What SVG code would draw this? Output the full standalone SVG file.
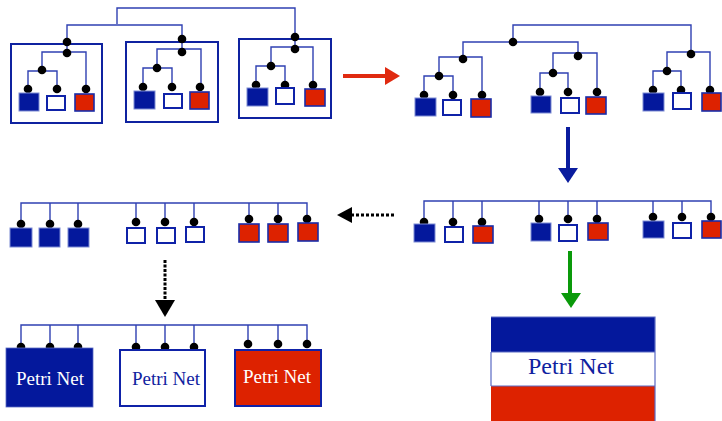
<svg xmlns="http://www.w3.org/2000/svg" width="722" height="421" viewBox="0 0 722 421">
<style>
.ln{fill:none;stroke:#2f40b2;stroke-width:1.4}
.dot{fill:#000}
.frame{fill:none;stroke:#0f22a0;stroke-width:2}
.bs{fill:#04189c;stroke:#7d8bd4;stroke-width:1}
.ws{fill:#fff;stroke:#0f22a8;stroke-width:2}
.rs{fill:#dd2200;stroke:#1a2ca8;stroke-width:1.6}
.pn{font-family:"Liberation Serif","Times New Roman",serif;text-anchor:middle}
</style>
<rect width="722" height="421" fill="#fff"/>
<g id="connectors">
  <!-- top-left tree -->
  <path class="ln" d="M117,24 V8 H295 V49"/>
  <path class="ln" d="M67,53 V25 H182 V52"/>
  <path class="ln" d="M42,70 V52 H86 V89"/>
  <path class="ln" d="M28,89 V71 H57 V89"/>
  <path class="ln" d="M157,68 V49 H201 V87"/>
  <path class="ln" d="M143,87 V68 H172 V87"/>
  <path class="ln" d="M271,66 V47 H313 V85"/>
  <path class="ln" d="M256,85 V66 H285 V85"/>
  <!-- top-right tree -->
  <path class="ln" d="M513,42 V25 H691 V54"/>
  <path class="ln" d="M463,59 V42 H578 V56"/>
  <path class="ln" d="M439,76 V57 H482 V95"/>
  <path class="ln" d="M424,95 V76 H453 V95"/>
  <path class="ln" d="M553,73 V53 H597 V92"/>
  <path class="ln" d="M540,92 V73 H568 V92"/>
  <path class="ln" d="M667,71 V52 H710 V90"/>
  <path class="ln" d="M653,90 V71 H681 V90"/>
  <!-- middle-right flat -->
  <path class="ln" d="M424,222 V201 H711 V217 M453,201 V222 M482,201 V222 M539,201 V219 M568,201 V219 M597,201 V219 M653,201 V217 M682,201 V217"/>
  <!-- middle-left flat -->
  <path class="ln" d="M21,224 V203 H307 V219 M50,203 V224 M78,203 V224 M136,203 V222 M165,203 V222 M194,203 V222 M249,203 V219 M278,203 V219"/>
  <!-- bottom-left flat -->
  <path class="ln" d="M21,347 V325 H307 V344 M50,325 V347 M78,325 V347 M136,325 V347 M165,325 V347 M194,325 V347 M248,325 V344 M278,325 V344"/>
  <!-- arrows -->
  <rect x="343" y="74" width="43" height="4" fill="#e02a10"/>
  <polygon points="385,67 400,76 385,85" fill="#e02a10"/>
  <rect x="566" y="127" width="4" height="42" fill="#0a1c9e"/>
  <polygon points="558,168 578,168 568,183" fill="#0a1c9e"/>
  <line x1="394" y1="215" x2="351" y2="215" stroke="#000" stroke-width="3" stroke-dasharray="3 2"/>
  <polygon points="352,207 352,223 337,215" fill="#000"/>
  <line x1="165" y1="260" x2="165" y2="301" stroke="#000" stroke-width="3" stroke-dasharray="3 1.5"/>
  <polygon points="155,300 175,300 165,317" fill="#000"/>
  <rect x="568" y="251" width="4" height="43" fill="#0a9a0a"/>
  <polygon points="561,293 581,293 571,308" fill="#0a9a0a"/>
</g>
<g id="tree-left-1">
  <rect class="frame" x="11" y="44" width="91" height="79"/>
  <circle class="dot" cx="67" cy="42" r="4.3"/>
  <circle class="dot" cx="67" cy="53" r="4.3"/>
  <circle class="dot" cx="42" cy="70" r="4.3"/>
  <circle class="dot" cx="28" cy="89" r="4.3"/>
  <circle class="dot" cx="57" cy="89" r="4.3"/>
  <circle class="dot" cx="86" cy="89" r="4.3"/>
  <rect class="bs" x="19" y="93" width="20" height="18"/>
  <rect class="ws" x="47" y="96" width="18" height="14"/>
  <rect class="rs" x="75" y="94" width="19" height="17"/>
</g>
<g id="tree-left-2">
  <rect class="frame" x="126" y="42" width="92" height="80"/>
  <circle class="dot" cx="182" cy="39" r="4.3"/>
  <circle class="dot" cx="182" cy="52" r="4.3"/>
  <circle class="dot" cx="157" cy="68" r="4.3"/>
  <circle class="dot" cx="143" cy="87" r="4.3"/>
  <circle class="dot" cx="172" cy="87" r="4.3"/>
  <circle class="dot" cx="200" cy="87" r="4.3"/>
  <rect class="bs" x="134" y="91" width="21" height="18"/>
  <rect class="ws" x="164" y="94" width="18" height="14"/>
  <rect class="rs" x="190" y="92" width="19" height="17"/>
</g>
<g id="tree-left-3">
  <rect class="frame" x="239" y="39" width="92" height="79"/>
  <circle class="dot" cx="295" cy="37" r="4.3"/>
  <circle class="dot" cx="295" cy="49" r="4.3"/>
  <circle class="dot" cx="271" cy="66" r="4.3"/>
  <circle class="dot" cx="256" cy="85" r="4.3"/>
  <circle class="dot" cx="285" cy="85" r="4.3"/>
  <circle class="dot" cx="313" cy="85" r="4.3"/>
  <rect class="bs" x="247" y="88" width="21" height="18"/>
  <rect class="ws" x="276" y="88" width="18" height="16"/>
  <rect class="rs" x="305" y="89" width="20" height="17"/>
</g>
<g id="tree-right">
  <circle class="dot" cx="513" cy="42" r="4.3"/>
  <circle class="dot" cx="463" cy="59" r="4.3"/>
  <circle class="dot" cx="578" cy="56" r="4.3"/>
  <circle class="dot" cx="691" cy="54" r="4.3"/>
  <circle class="dot" cx="439" cy="76" r="4.3"/>
  <circle class="dot" cx="424" cy="95" r="4.3"/>
  <circle class="dot" cx="453" cy="95" r="4.3"/>
  <circle class="dot" cx="482" cy="95" r="4.3"/>
  <rect class="bs" x="415" y="98" width="21" height="18"/>
  <rect class="ws" x="443" y="100" width="18" height="15"/>
  <rect class="rs" x="471" y="99" width="20" height="18"/>
  <circle class="dot" cx="553" cy="73" r="4.3"/>
  <circle class="dot" cx="540" cy="92" r="4.3"/>
  <circle class="dot" cx="568" cy="92" r="4.3"/>
  <circle class="dot" cx="597" cy="92" r="4.3"/>
  <rect class="bs" x="531" y="96" width="20" height="17"/>
  <rect class="ws" x="561" y="98" width="18" height="15"/>
  <rect class="rs" x="586" y="97" width="20" height="17"/>
  <circle class="dot" cx="667" cy="71" r="4.3"/>
  <circle class="dot" cx="653" cy="90" r="4.3"/>
  <circle class="dot" cx="681" cy="90" r="4.3"/>
  <circle class="dot" cx="710" cy="90" r="4.3"/>
  <rect class="bs" x="643" y="93" width="21" height="18"/>
  <rect class="ws" x="673" y="93" width="18" height="16"/>
  <rect class="rs" x="702" y="93" width="19" height="18"/>
</g>
<g id="flat-right">
  <circle class="dot" cx="424" cy="222" r="4.3"/>
  <circle class="dot" cx="453" cy="222" r="4.3"/>
  <circle class="dot" cx="482" cy="222" r="4.3"/>
  <circle class="dot" cx="539" cy="219" r="4.3"/>
  <circle class="dot" cx="568" cy="219" r="4.3"/>
  <circle class="dot" cx="597" cy="219" r="4.3"/>
  <circle class="dot" cx="653" cy="217" r="4.3"/>
  <circle class="dot" cx="682" cy="217" r="4.3"/>
  <circle class="dot" cx="711" cy="217" r="4.3"/>
  <rect class="bs" x="414" y="224" width="21" height="18"/>
  <rect class="ws" x="445" y="227" width="18" height="15"/>
  <rect class="rs" x="473" y="226" width="20" height="17"/>
  <rect class="bs" x="531" y="223" width="20" height="18"/>
  <rect class="ws" x="559" y="225" width="18" height="16"/>
  <rect class="rs" x="588" y="223" width="20" height="17"/>
  <rect class="bs" x="643" y="221" width="21" height="17"/>
  <rect class="ws" x="673" y="223" width="18" height="15"/>
  <rect class="rs" x="702" y="221" width="19" height="17"/>
</g>
<g id="flat-left">
  <circle class="dot" cx="21" cy="224" r="4.3"/>
  <circle class="dot" cx="50" cy="224" r="4.3"/>
  <circle class="dot" cx="78" cy="224" r="4.3"/>
  <circle class="dot" cx="136" cy="222" r="4.3"/>
  <circle class="dot" cx="165" cy="222" r="4.3"/>
  <circle class="dot" cx="194" cy="222" r="4.3"/>
  <circle class="dot" cx="249" cy="219" r="4.3"/>
  <circle class="dot" cx="278" cy="219" r="4.3"/>
  <circle class="dot" cx="307" cy="219" r="4.3"/>
  <rect class="bs" x="10" y="228" width="22" height="19"/>
  <rect class="bs" x="39" y="228" width="21" height="19"/>
  <rect class="bs" x="68" y="228" width="21" height="19"/>
  <rect class="ws" x="127" y="228" width="18" height="15"/>
  <rect class="ws" x="157" y="228" width="18" height="15"/>
  <rect class="ws" x="186" y="227" width="18" height="15"/>
  <rect class="rs" x="239" y="224" width="20" height="18"/>
  <rect class="rs" x="268" y="224" width="20" height="18"/>
  <rect class="rs" x="298" y="223" width="20" height="18"/>
</g>
<g id="petri-blue">
  <circle class="dot" cx="21" cy="347" r="4.3"/>
  <circle class="dot" cx="50" cy="347" r="4.3"/>
  <circle class="dot" cx="78" cy="347" r="4.3"/>
  <rect x="6" y="348" width="87" height="59" fill="#04189c" stroke="#5a6ac4" stroke-width="0.8"/>
  <text class="pn" x="50" y="385" font-size="19" fill="#fff">Petri Net</text>
</g>
<g id="petri-white">
  <circle class="dot" cx="136" cy="347" r="4.3"/>
  <circle class="dot" cx="165" cy="347" r="4.3"/>
  <circle class="dot" cx="194" cy="347" r="4.3"/>
  <rect x="120" y="350" width="85" height="56" fill="#fff" stroke="#0f22a8" stroke-width="2"/>
  <text class="pn" x="166" y="385" font-size="19" fill="#0f22a0">Petri Net</text>
</g>
<g id="petri-red">
  <circle class="dot" cx="248" cy="344" r="4.3"/>
  <circle class="dot" cx="278" cy="344" r="4.3"/>
  <circle class="dot" cx="307" cy="344" r="4.3"/>
  <rect x="235" y="350" width="86" height="56" fill="#dd2200" stroke="#0f22a8" stroke-width="2"/>
  <text class="pn" x="277" y="383" font-size="19" fill="#fff">Petri Net</text>
</g>
<g id="petri-combined">
  <rect x="491" y="317" width="164" height="35" fill="#04189c"/>
  <rect x="491" y="352" width="164" height="34" fill="#fff"/>
  <rect x="491" y="386" width="164" height="36" fill="#dd2200"/>
  <path d="M491,317 H655 V421 M491,352 V386 M491,352 H655 M491,386 H655" fill="none" stroke="#5a6ac4" stroke-width="1.2"/>
  <text class="pn" x="571" y="374" font-size="24" fill="#0f22a0">Petri Net</text>
</g>
</svg>
